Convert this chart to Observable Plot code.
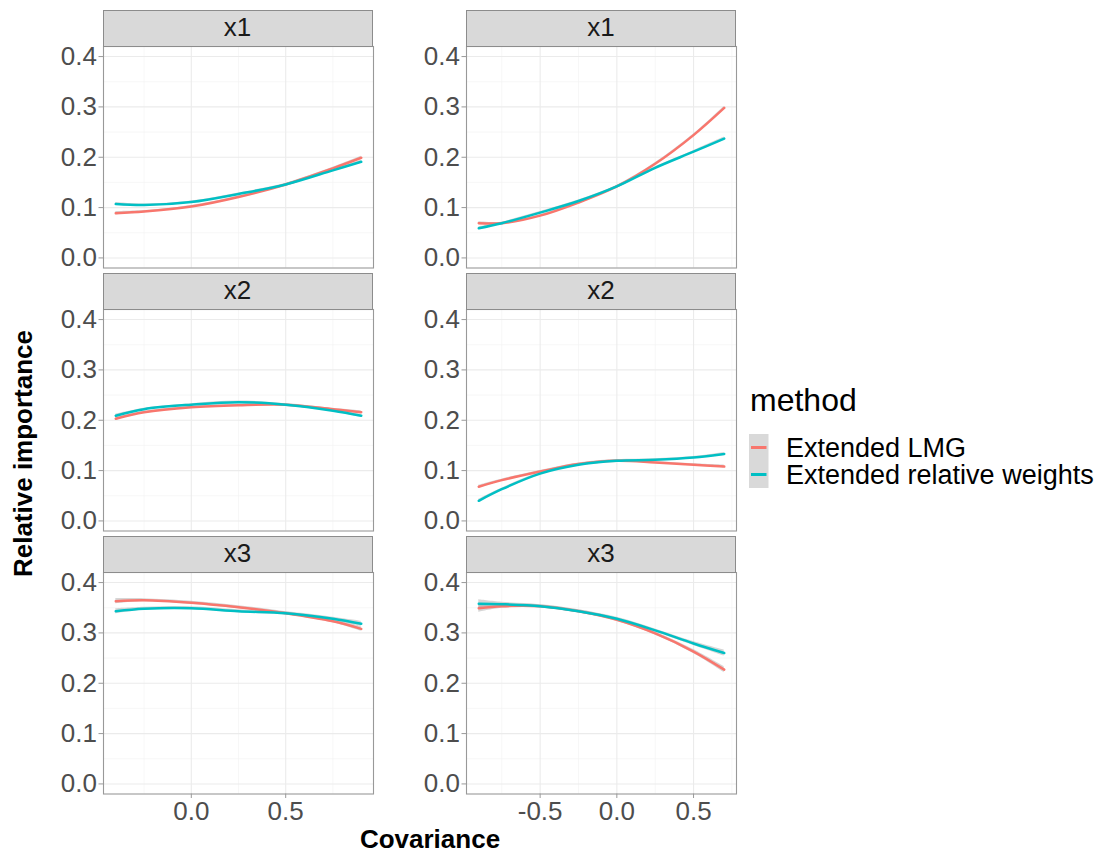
<!DOCTYPE html>
<html><head><meta charset="utf-8">
<script src="https://cdn.jsdelivr.net/npm/d3@7"></script>
<script src="https://cdn.jsdelivr.net/npm/@observablehq/plot@0.6"></script>
<style>
body{margin:0;background:#fff;}
#chart{position:relative;width:1106px;height:854px;font-family:"Liberation Sans",Arial,sans-serif;overflow:hidden;}
.panel{position:absolute;}
.strip{position:absolute;box-sizing:border-box;background:#d9d9d9;border:1px solid #8c8c8c;color:#1a1a1a;font-size:26px;text-align:center;line-height:33px;}
#overlay{position:absolute;left:0;top:0;pointer-events:none;}
</style></head><body><div id="chart"></div>
<script>
// ---- categories / labels
const methods = ["Extended LMG", "Extended relative weights"];
const methodColors = ["#F8766D", "#00BFC4"];
const variables = ["x1", "x2", "x3"];
const legendTitle = "method";
const xTitle = "Covariance";
const yTitle = "Relative importance";

// ---- covariance positions (x) per column
const covLeft = [-0.4, -0.25, 0, 0.25, 0.5, 0.75, 0.9];
const covRight = [-0.9, -0.75, -0.5, -0.25, 0, 0.25, 0.5, 0.7];

// ---- tick values
const yTicks = [0, 0.1, 0.2, 0.3, 0.4];
const yMinor = [0.05, 0.15, 0.25, 0.35];
const xTicksLeft = [0, 0.5];
const xMinorLeft = [-0.25, 0.25, 0.75];
const xTicksRight = [-0.5, 0, 0.5];
const xMinorRight = [-0.75, -0.25, 0.25, 0.75];

// ---- series values
const lmgLeftX1 = [0.089, 0.092, 0.102, 0.121, 0.146, 0.178, 0.199];
const rwLeftX1  = [0.107, 0.105, 0.111, 0.127, 0.146, 0.174, 0.191];
const lmgRightX1 = [0.069, 0.069, 0.084, 0.110, 0.142, 0.187, 0.244, 0.298];
const rwRightX1  = [0.059, 0.069, 0.090, 0.113, 0.142, 0.179, 0.211, 0.237];

const lmgLeftX2 = [0.203, 0.216, 0.226, 0.230, 0.231, 0.222, 0.216];
const rwLeftX2  = [0.209, 0.222, 0.231, 0.236, 0.231, 0.219, 0.209];
const lmgRightX2 = [0.068, 0.081, 0.098, 0.113, 0.1195, 0.116, 0.1115, 0.108];
const rwRightX2  = [0.040, 0.063, 0.094, 0.1115, 0.1195, 0.1215, 0.126, 0.133];

const lmgLeftX3 = [0.363, 0.365, 0.360, 0.351, 0.339, 0.323, 0.308];
const rwLeftX3  = [0.343, 0.348, 0.349, 0.343, 0.339, 0.328, 0.318];
const lmgRightX3 = [0.349, 0.353, 0.353, 0.343, 0.326, 0.299, 0.263, 0.227];
const rwRightX3  = [0.358, 0.357, 0.353, 0.343, 0.328, 0.305, 0.279, 0.260];

// ---- confidence band half-widths
const seLeftSmall  = [0.003, 0.002, 0.002, 0.002, 0.002, 0.002, 0.003];
const seRightSmall = [0.003, 0.002, 0.002, 0.002, 0.002, 0.002, 0.002, 0.003];
const seLeftX3  = [0.005, 0.003, 0.003, 0.003, 0.003, 0.003, 0.005];
const seRightX3 = [0.008, 0.004, 0.003, 0.003, 0.003, 0.003, 0.004, 0.006];

const panels = [
  {row: 0, col: 0, v: [lmgLeftX1, rwLeftX1], se: seLeftSmall},
  {row: 0, col: 1, v: [lmgRightX1, rwRightX1], se: seRightSmall},
  {row: 1, col: 0, v: [lmgLeftX2, rwLeftX2], se: seLeftSmall},
  {row: 1, col: 1, v: [lmgRightX2, rwRightX2], se: seRightSmall},
  {row: 2, col: 0, v: [lmgLeftX3, rwLeftX3], se: seLeftX3},
  {row: 2, col: 1, v: [lmgRightX3, rwRightX3], se: seRightX3}
];

const chart = document.getElementById("chart");
const FONT = '"Liberation Sans", Arial, sans-serif';
const ML = 60, MB = 44, W = 270, H = 221.5;
const colLeft = [102.5, 466];
const rowTop = [46, 309, 572];
const fmt = d => d.toFixed(1);

panels.forEach(p => {
  const xs = p.col === 0 ? covLeft : covRight;
  const rows = [];
  methods.forEach((m, k) => p.v[k].forEach((val, i) => rows.push({
    cov: xs[i], value: val, lo: val - p.se[i], hi: val + p.se[i], method: m
  })));
  const bottom = p.row === 2;
  const major = p.col === 0 ? xTicksLeft : xTicksRight;
  const minor = p.col === 0 ? xMinorLeft : xMinorRight;
  const plot = Plot.plot({
    width: W + ML, height: H + (bottom ? MB : 0),
    marginLeft: ML, marginRight: 0, marginTop: 0, marginBottom: bottom ? MB : 0,
    x: {domain: p.col === 0 ? [-0.465, 0.965] : [-0.98, 0.78], ...(bottom ? {} : {axis: null})},
    y: {domain: [-0.02, 0.42]},
    color: {domain: methods, range: methodColors},
    style: {fontSize: "26px", fontFamily: FONT, background: "transparent", overflow: "visible"},
    marks: [
      Plot.ruleX(minor, {stroke: "#f2f2f2", strokeWidth: 0.6}),
      Plot.ruleY(yMinor, {stroke: "#f2f2f2", strokeWidth: 0.6}),
      Plot.ruleX(major, {stroke: "#ebebeb", strokeWidth: 1.1}),
      Plot.ruleY(yTicks, {stroke: "#ebebeb", strokeWidth: 1.1}),
      Plot.areaY(rows, {x: "cov", y1: "lo", y2: "hi", z: "method", fill: "#999999", fillOpacity: 0.4, curve: "catmull-rom"}),
      Plot.line(rows, {x: "cov", y: "value", stroke: "method", strokeWidth: 2.5, curve: "catmull-rom"}),
      Plot.frame({stroke: "#999999", strokeWidth: 1.1}),
      Plot.axisY(yTicks, {tickSize: 4.5, tickPadding: 2, tickFormat: fmt, fill: "#4d4d4d", stroke: "#999999", label: null}),
      bottom ? Plot.axisX(major, {tickSize: 4.5, tickPadding: 3, tickFormat: fmt, fill: "#4d4d4d", stroke: "#999999", label: null}) : null
    ]
  });
  plot.classList.add("panel");
  plot.style.left = (colLeft[p.col] - ML) + "px";
  plot.style.top = rowTop[p.row] + "px";
  chart.appendChild(plot);

  const strip = document.createElement("div");
  strip.className = "strip";
  strip.style.left = colLeft[p.col] + "px";
  strip.style.top = (rowTop[p.row] - 36) + "px";
  strip.style.width = W + "px";
  strip.style.height = "36.5px";
  strip.textContent = variables[p.row];
  chart.appendChild(strip);
});

// ---- titles and legend overlay
const svg = d3.select(chart).append("svg").attr("id", "overlay")
  .attr("width", 1106).attr("height", 854).style("font-family", FONT);
svg.append("text").attr("transform", "translate(32,453.5) rotate(-90)")
  .attr("text-anchor", "middle").attr("font-weight", "bold").attr("font-size", 26).attr("fill", "#000").text(yTitle);
svg.append("text").attr("x", 430).attr("y", 848)
  .attr("text-anchor", "middle").attr("font-weight", "bold").attr("font-size", 26).attr("fill", "#000").text(xTitle);
svg.append("text").attr("x", 750).attr("y", 411).attr("font-size", 32).attr("fill", "#000").text(legendTitle);
methods.forEach((m, k) => {
  const cy = 447.5 + k * 27;
  svg.append("rect").attr("x", 749).attr("y", cy - 13.5).attr("width", 19.5).attr("height", 27).attr("fill", "#d9d9d9");
  svg.append("line").attr("x1", 751).attr("x2", 766.5).attr("y1", cy).attr("y2", cy)
    .attr("stroke", methodColors[k]).attr("stroke-width", 3);
  svg.append("text").attr("x", 786).attr("y", cy + 9.5).attr("font-size", 27).attr("fill", "#000").text(m);
});
</script></body></html>
